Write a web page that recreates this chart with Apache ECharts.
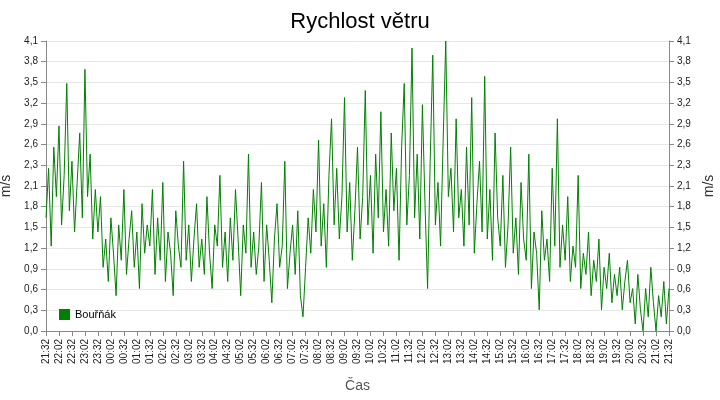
<!DOCTYPE html>
<html><head><meta charset="utf-8">
<script src="https://cdn.jsdelivr.net/npm/echarts@6/dist/echarts.min.js"></script>
<style>html,body{margin:0;padding:0;background:#fff}#c{width:720px;height:400px}</style>
</head><body><div id="c"></div>
<script>
const startTime = "21:32";
const stepMinutes = 6;
const speed = [
1.6,2.3,1.2,2.6,1.9,2.9,1.5,2.2,3.5,1.7,2.4,1.4,2.1,2.8,1.6,3.7,1.9,2.5,1.3,2.0,
1.4,1.9,0.9,1.3,0.7,1.6,1.1,0.5,1.5,1.0,2.0,0.8,1.3,1.7,0.9,1.4,0.6,1.8,1.1,1.5,
1.2,2.0,0.8,1.6,1.0,2.1,0.7,1.4,1.1,0.5,1.7,1.2,0.9,2.4,1.0,1.5,0.7,1.3,1.8,0.9,
1.3,0.8,1.9,1.1,0.6,1.5,1.2,2.2,0.9,1.4,0.7,1.6,1.0,2.0,1.3,0.5,1.5,1.1,2.5,0.9,
1.4,0.8,1.2,2.1,0.7,1.5,1.0,0.4,1.3,1.8,0.9,1.2,2.4,0.6,1.1,1.5,0.8,1.7,0.5,0.2,
0.9,1.6,1.1,2.0,1.4,2.7,1.2,1.8,0.9,2.2,3.0,1.5,2.3,1.3,1.9,3.3,1.4,2.1,1.0,1.7,
2.6,1.3,1.9,3.4,1.5,2.2,1.1,2.5,1.6,3.1,1.4,2.0,1.2,2.8,1.7,2.3,1.0,2.6,3.5,1.5,
2.2,4.0,1.6,2.5,1.3,3.2,1.8,0.6,2.4,3.9,1.5,2.1,1.2,2.7,4.1,1.9,2.3,1.4,3.0,1.6,
2.0,1.2,2.6,1.5,3.3,1.1,1.8,2.4,1.4,3.6,1.3,2.0,1.0,2.8,1.6,1.2,2.2,0.9,1.5,2.6,
1.1,1.6,0.8,2.1,1.3,1.0,2.5,0.6,1.4,1.1,0.3,1.7,1.0,1.3,0.7,2.3,1.2,3.0,0.9,1.5,
1.0,1.9,0.7,1.2,0.9,2.2,0.6,1.1,0.8,1.4,0.5,1.0,0.7,1.3,0.3,0.9,0.6,1.1,0.4,0.8,
0.5,0.9,0.3,0.7,1.0,0.4,0.6,0.1,0.8,0.3,0.0,0.6,0.2,0.9,0.4,0.0,0.5,0.2,0.7,0.1,0.6
];
const [h0,m0] = startTime.split(':').map(Number);
const times = speed.map((_,i)=>{const t=(h0*60+m0+i*stepMinutes)%1440;return String(Math.floor(t/60)).padStart(2,'0')+':'+String(t%60).padStart(2,'0');});
const fmt = v => (v+1e-9).toFixed(1).replace('.',',');
const yAx = (pos) => ({type:'value',position:pos,min:0,max:4.1,interval:4.1/14,name:'m/s',nameLocation:'middle',nameGap:30,
  nameTextStyle:{fontSize:14,color:'#333'},
  axisLine:{show:true,lineStyle:{color:'#888'}},axisTick:{show:true,lineStyle:{color:'#888'}},
  axisLabel:{formatter:fmt,fontSize:10,color:'#222'},
  splitLine:{show:pos==='left',lineStyle:{color:'#e8e8e8'}}});
const chart = echarts.init(document.getElementById('c'));
chart.setOption({
  animation:false,
  title:{text:'Rychlost větru',left:'center',top:6,textStyle:{fontSize:22,fontWeight:'normal',color:'#000',fontFamily:'Liberation Sans'}},
  grid:{left:46,right:51,top:41,bottom:69,containLabel:false,outerBoundsMode:'none'},
  legend:{left:54,bottom:75,orient:'vertical',itemWidth:11,itemHeight:11,icon:'rect',textStyle:{fontSize:11,color:'#000'},data:['Bouřňák']},
  xAxis:{type:'category',data:times,boundaryGap:false,name:'Čas',nameLocation:'middle',nameGap:48,nameTextStyle:{fontSize:14,color:'#555'},
    axisLine:{lineStyle:{color:'#888'}},axisTick:{interval:4,lineStyle:{color:'#888'}},
    axisLabel:{interval:4,rotate:90,fontSize:10,color:'#222'},splitLine:{show:false}},
  yAxis:[yAx('left'),yAx('right')],
  series:[{name:'Bouřňák',type:'line',data:speed,symbol:'none',lineStyle:{width:1,color:'#008000'},itemStyle:{color:'#008000'}}]
});
</script></body></html>
